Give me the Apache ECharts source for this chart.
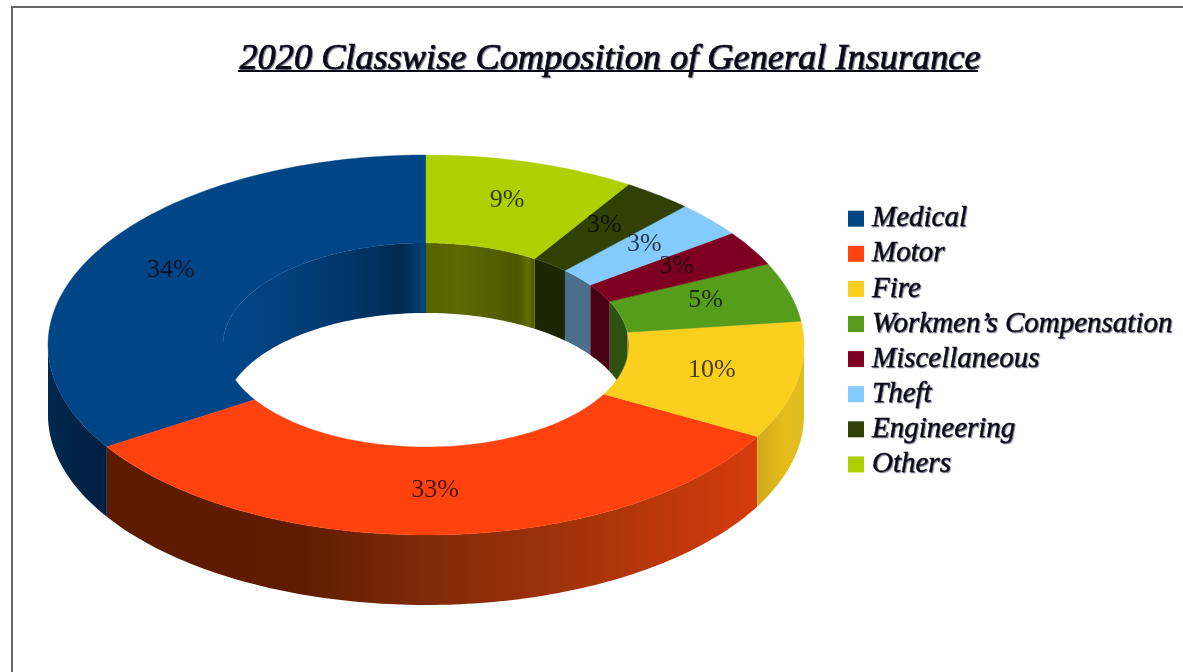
<!DOCTYPE html>
<html>
<head>
<meta charset="utf-8">
<title>2020 Classwise Composition of General Insurance</title>
<style>
html, body { margin: 0; padding: 0; background: #fff; }
#chart { width: 1183px; height: 672px; }
</style>
<script src="https://cdn.jsdelivr.net/npm/echarts@6/dist/echarts.min.js"></script>
</head>
<body>
<div id="chart"></div>
<script>
const chartTitle = '2020 Classwise Composition of General Insurance';
const categories = ['Medical', 'Motor', 'Fire', 'Workmen’s Compensation', 'Miscellaneous', 'Theft', 'Engineering', 'Others'];
const shares = [34, 33, 10, 5, 3, 3, 3, 9];
const topColors = ['#004586', '#ff420e', '#fbcf1e', '#579d1c', '#7e0021', '#83caff', '#314004', '#aecf00'];

// Left-to-right shading of the outer rim, one list of stops per category.
const rimShades = [
  [[0, '#00284f'], [1, '#001f40']],
  [[0, '#5c1a00'], [0.3, '#601c02'], [0.48, '#7e2a08'], [0.75, '#a8340a'], [1, '#d63c0c']],
  [[0, '#cfa91a'], [0.6, '#e6bd1c'], [1, '#e2bc20']],
  [[0, '#2d5210'], [1, '#2d5210']],
  [[0, '#480013'], [1, '#480013']],
  [[0, '#4a6f8c'], [1, '#4a6f8c']],
  [[0, '#1d2602'], [1, '#1d2602']],
  [[0, '#556300'], [1, '#556300']]
];
// Shading of the wall inside the hole.
const wallShades = [
  [[0, '#004586'], [0.1, '#004586'], [0.35, '#003f7a'], [0.6, '#00376a'], [0.88, '#002a50'], [1, '#00457a']],
  [[0, '#5c1a00'], [1, '#5c1a00']],
  [[0, '#a08010'], [1, '#a08010']],
  [[0, '#2d5210'], [1, '#2d5210']],
  [[0, '#480013'], [1, '#480013']],
  [[0, '#4a6f8c'], [1, '#4a6f8c']],
  [[0, '#1d2602'], [1, '#1d2602']],
  [[0, '#566300'], [0.3, '#5c6a00'], [0.85, '#4c5700'], [0.94, '#636f00'], [1, '#4c5700']]
];

// Tilted ring geometry, in pixels.
const CX = 426, CY = 345, RX = 378, RY = 190, HOLE = 0.537, DEPTH = 70;

const total = shares.reduce((a, b) => a + b, 0);

// Slices run anticlockwise from twelve o'clock; angles are clockwise degrees.
const sliceEnd = [];
shares.reduce((used, v, i) => {
  sliceEnd[i] = 360 - used / total * 360;
  return used + v;
}, 0);

function ringPoint(deg, ratio, drop) {
  const t = deg * Math.PI / 180;
  return [CX + RX * ratio * Math.sin(t), CY + (drop || 0) - RY * ratio * Math.cos(t)];
}

function arc(a, b, ratio, drop) {
  const n = Math.max(2, Math.ceil(Math.abs(b - a)));
  const pts = [];
  for (let i = 0; i <= n; i++) pts.push(ringPoint(a + (b - a) * i / n, ratio, drop));
  return pts;
}

function gradient(stops) {
  return new echarts.graphic.LinearGradient(0, 0, 1, 0, stops.map(s => ({ offset: s[0], color: s[1] })));
}

function wallBand(a, b, ratio, stops) {
  const edge = arc(a, b, ratio, 0);
  const lower = arc(b, a, ratio, DEPTH);
  return {
    type: 'polygon',
    z2: 1,
    shape: { points: edge.concat(lower) },
    style: { fill: gradient(stops) }
  };
}

function renderSlice(params, api) {
  const i = params.seriesIndex;
  const span = api.value(0) / total * 360;
  const end = sliceEnd[i];
  const start = end - span;
  const children = [];

  // Outer rim shows on the front half only.
  const fa = Math.max(start, 90), fb = Math.min(end, 270);
  if (fb > fa) children.push(wallBand(fa, fb, 1, rimShades[i]));

  // The hole wall shows on the back half only.
  [[0, 90], [270, 360]].forEach(range => {
    const a = Math.max(start, range[0]), b = Math.min(end, range[1]);
    if (b > a) children.push(wallBand(a, b, HOLE, wallShades[i]));
  });

  // Top face of the slice.
  children.push({
    type: 'polygon',
    z2: 10,
    shape: { points: arc(start, end, 1, 0).concat(arc(end, start, HOLE, 0)) },
    style: { fill: topColors[i], stroke: topColors[i], lineWidth: 0.4 }
  });

  // Percentage label at the middle of the ring.
  const mid = (start + end) / 2 * Math.PI / 180;
  children.push({
    type: 'text',
    z2: 20,
    x: CX + RX * 0.77 * Math.sin(mid),
    y: CY - 3 - RY * 0.78 * Math.cos(mid),
    style: {
      text: api.value(0) + '%',
      fill: 'rgba(0,0,0,0.72)',
      font: '26px "Liberation Serif", serif',
      align: 'center',
      verticalAlign: 'middle'
    }
  });
  return { type: 'group', children };
}

const chart = echarts.init(document.getElementById('chart'), null, { renderer: 'canvas' });
chart.setOption({
  animation: false,
  backgroundColor: '#ffffff',
  title: {
    text: chartTitle,
    left: 605,
    top: 36,
    textAlign: 'center',
    textStyle: {
      fontFamily: '"Liberation Serif", serif',
      fontStyle: 'italic',
      fontWeight: 'normal',
      fontSize: 36.3,
      color: '#0a0a14',
      textBorderColor: '#0a0a14',
      textBorderWidth: 0.7,
      textShadowColor: 'rgba(0,0,40,0.45)',
      textShadowBlur: 1,
      textShadowOffsetX: 1,
      textShadowOffsetY: 1
    }
  },
  legend: {
    orient: 'vertical',
    left: 843,
    top: 199,
    icon: 'rect',
    itemWidth: 16,
    itemHeight: 16,
    itemGap: 5.7,
    selectedMode: false,
    data: categories,
    textStyle: {
      fontFamily: '"Liberation Serif", serif',
      fontStyle: 'italic',
      fontSize: 29,
      color: '#0a0a14',
      padding: [0, 0, 0, 3],
      textBorderColor: '#0a0a14',
      textBorderWidth: 0.4,
      textShadowColor: 'rgba(0,0,40,0.45)',
      textShadowBlur: 1,
      textShadowOffsetX: 1,
      textShadowOffsetY: 1
    }
  },
  graphic: [
    {
      type: 'polyline',
      silent: true,
      shape: { points: [[12, 672], [12, 7], [1183, 7]] },
      style: { fill: 'none', stroke: '#666666', lineWidth: 2 }
    },
    {
      type: 'line',
      silent: true,
      shape: { x1: 238, y1: 71, x2: 978, y2: 71 },
      style: { stroke: '#0a0a14', lineWidth: 2 }
    }
  ],
  series: categories.map((name, i) => ({
    type: 'custom',
    name,
    coordinateSystem: 'none',
    silent: true,
    itemStyle: { color: topColors[i] },
    renderItem: renderSlice,
    data: [[shares[i]]]
  }))
});
</script>
</body>
</html>
